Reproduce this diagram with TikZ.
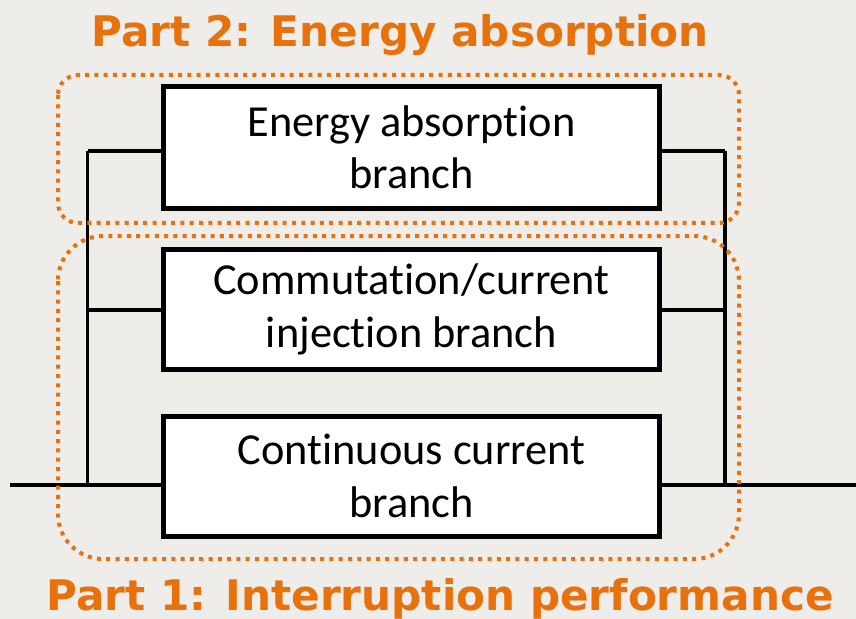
\documentclass[tikz,border=0pt]{standalone}
\usepackage{fontspec}
\setmainfont{Carlito}[RawFeature={-liga;-clig;-dlig}]
\newfontfamily\titlefont{DejaVu Sans}
\begin{document}
\begin{tikzpicture}[x=1bp,y=-1bp,
  branchbox/.style={draw=black, fill=white, line width=5bp, inner sep=0pt,
    minimum width=495bp, align=center, font=\fontsize{44.5}{53}\selectfont},
  wire/.style={draw=black, line width=3.6bp},
  partframe/.style={draw=partorange, line width=4bp, dash pattern=on 4bp off 5.3bp},
  parttitle/.style={text=partorange, anchor=base, inner sep=0pt,
    font=\titlefont\bfseries\fontsize{42.3}{50}\selectfont}]
\definecolor{partorange}{HTML}{E8710C}
\definecolor{paper}{HTML}{EEEDEA}

% canvas
\fill[paper] (0,0) rectangle (856,619);
\useasboundingbox (0,0) rectangle (856,619);

% branches
\node[branchbox, minimum height=121.5bp] (eab) at (411.5,147.25) {Energy absorption\\branch};
\node[branchbox, minimum height=119.5bp] (cib) at (411.5,309.75) {Commutation/current\\injection branch};
\node[branchbox, minimum height=120.5bp] (ccb) at (411.5,476.25) {Continuous current\\branch};

% bus bars and terminals
\coordinate (lt) at (87.5,151);
\coordinate (lb) at (87.5,485);
\coordinate (rt) at (725,151);
\coordinate (rb) at (725,485);
\coordinate (tin) at (10,485);
\coordinate (tout) at (856,485);

\draw[wire] (lt) -- (lb);
\draw[wire] (rt) -- (rb);
\draw[wire] (lt) -- (lt -| eab.west);
\draw[wire] (rt -| eab.east) -- (rt);
\draw[wire] (lb |- cib.west) -- (cib.west);
\draw[wire] (cib.east) -- (rb |- cib.east);
\draw[wire] (tin) -- (tin -| ccb.west);
\draw[wire] (tout -| ccb.east) -- (tout);

% part frames
\draw[partframe, rounded corners=20bp] (58,75) rectangle (739,223);
\draw[partframe, rounded corners=45bp] (58,236) rectangle (739,559);

% part titles
\node[parttitle] (p2) at (400,47) {Part 2: Energy absorption};
\node[parttitle] (p1) at (440,610) {Part 1: Interruption performance};
\end{tikzpicture}
\end{document}
